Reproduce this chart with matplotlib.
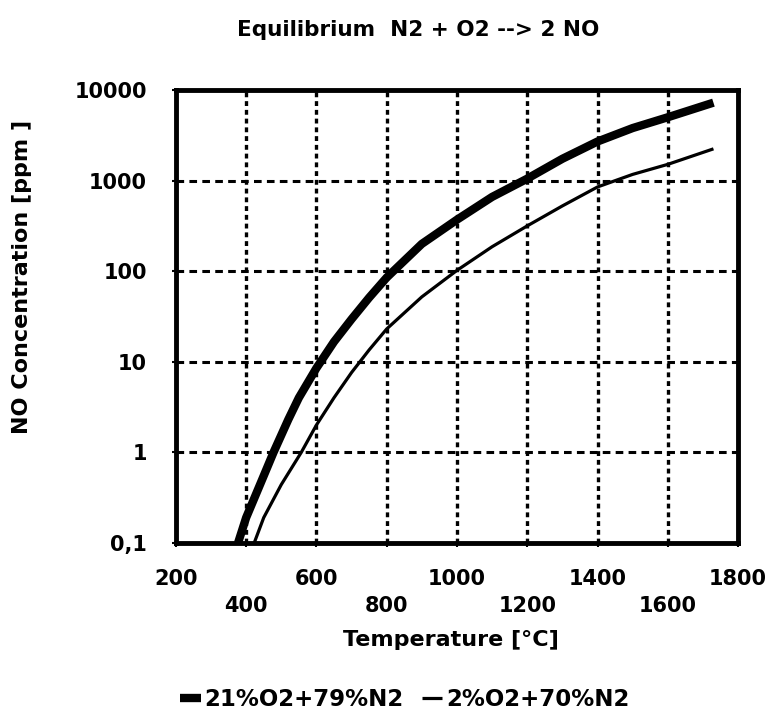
import matplotlib
matplotlib.use('Agg')
import matplotlib.pyplot as plt
import numpy as np

plt.rcParams['font.family'] = ['DejaVu Sans']
plt.rcParams['font.weight'] = 'bold'
plt.rcParams['lines.scale_dashes'] = False

# values (temperature in C, NO in ppm)
temp_21 = [377, 400, 450, 478, 520, 550, 600, 650, 700, 750, 800, 900,
           1000, 1100, 1200, 1300, 1400, 1500, 1600, 1730]
no_21 = [0.1, 0.19, 0.55, 1.0, 2.3, 4.0, 8.5, 16.6, 29.5, 51, 85, 200,
         370, 660, 1050, 1740, 2700, 3800, 5000, 7250]

temp_2 = [423, 450, 500, 557, 600, 650, 700, 750, 800, 900, 1000, 1100,
          1200, 1300, 1400, 1500, 1600, 1730]
no_2 = [0.1, 0.19, 0.44, 1.0, 2.0, 4.0, 7.6, 13.5, 23, 52, 102, 186,
        316, 525, 850, 1170, 1510, 2240]

x_ticks = [200, 400, 600, 800, 1000, 1200, 1400, 1600, 1800]
y_ticks = [0.1, 1, 10, 100, 1000, 10000]
y_labels = ['0,1', '1', '10', '100', '1000', '10000']

fig = plt.figure(figsize=(7.68, 7.2), dpi=100)
ax = fig.add_axes([0.229, 0.246, 0.732, 0.629])

ax.set_yscale('log')
ax.set_xlim(200, 1800)
ax.set_ylim(0.1, 10000)

for t in x_ticks[1:-1]:
    ax.axvline(t, color='black', lw=2.4, ls=(0, (3.5, 2.8)), zorder=1)
for v in y_ticks[1:-1]:
    ax.axhline(v, color='black', lw=2.2, ls=(0, (5.5, 3.8)), zorder=1)

l1, = ax.plot(temp_21, no_21, color='black', lw=6, solid_capstyle='butt',
              solid_joinstyle='round', label='21%O2+79%N2', zorder=3)
l2, = ax.plot(temp_2, no_2, color='black', lw=2.3, solid_capstyle='butt',
              solid_joinstyle='round', label='2%O2+70%N2', zorder=3)

ax.set_xticks(x_ticks)
ax.set_xticklabels([str(t) if i % 2 == 0 else '\n' + str(t)
                    for i, t in enumerate(x_ticks)])
ax.set_yticks(y_ticks)
ax.set_yticklabels(y_labels)
ax.minorticks_off()
ax.yaxis.set_minor_locator(matplotlib.ticker.NullLocator())

ax.tick_params(axis='both', length=3, width=1.5, labelsize=15)
ax.tick_params(axis='x', pad=16)
ax.tick_params(axis='y', pad=18)
for lab in ax.get_xticklabels() + ax.get_yticklabels():
    lab.set_fontweight('bold')
    lab.set_linespacing(1.45)

for s in ax.spines.values():
    s.set_linewidth(3.5)

fig.text(0.545, 0.958, 'Equilibrium  N2 + O2 --> 2 NO', ha='center',
         va='center', fontsize=15.5, fontweight='bold')
fig.text(0.587, 0.111, 'Temperature [°C]', ha='center', va='center',
         fontsize=16, fontweight='bold')
fig.text(0.029, 0.615, 'NO Concentration [ppm ]', ha='center', va='center',
         rotation=90, fontsize=16, fontweight='bold')

fig.legend(handles=[l1, l2], loc='center', bbox_to_anchor=(0.527, 0.028),
           ncol=2, frameon=False, handlelength=0.9, handletextpad=0.15,
           columnspacing=0.8, prop={'size': 16.5, 'weight': 'bold'})

fig.savefig('out.png', dpi=100)
